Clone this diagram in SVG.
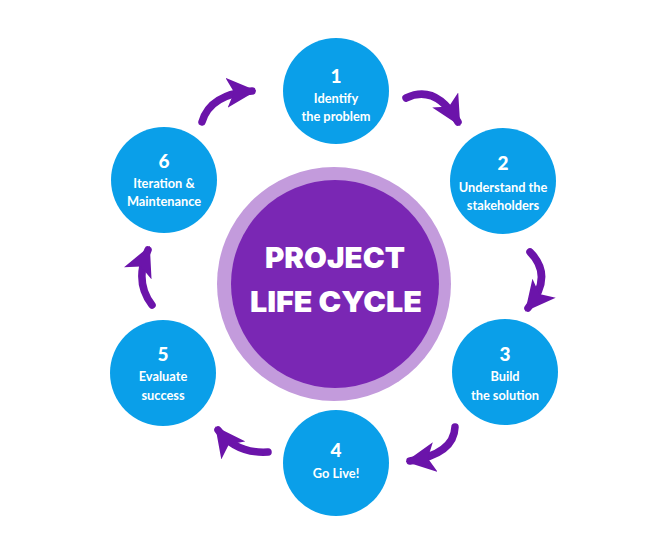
<svg xmlns="http://www.w3.org/2000/svg" width="672" height="560" viewBox="0 0 672 560">
<defs>
<style>
.node{fill:#0A9FE9}
.num{font-family:Lato,"Noto Sans",sans-serif;font-weight:900;font-size:19px;fill:#fff;text-anchor:middle}
.lbl{font-family:Lato,"Noto Sans",sans-serif;font-weight:700;font-size:12.8px;fill:#fff;text-anchor:middle}
.title{font-family:Inter,"Noto Sans",sans-serif;font-weight:900;font-size:29px;fill:#fff;text-anchor:middle}
.arr{fill:none;stroke:#6B14AA;stroke-width:7.5;stroke-linecap:round;marker-end:url(#head)}
</style>
<marker id="head" markerUnits="userSpaceOnUse" markerWidth="30" markerHeight="30" viewBox="0 0 20 20" refX="17" refY="10" orient="auto">
<path d="M0,0 L20,10 L0,20 L5,10 Z" fill="#6B14AA"/>
</marker>
</defs>
<rect width="672" height="560" fill="#fff"/>
<g id="center">
<circle cx="334" cy="284" r="117" fill="#C39BDC"/>
<circle cx="335" cy="284" r="104" fill="#7A27B4"/>
<text class="title" x="335" y="268" textLength="140" lengthAdjust="spacingAndGlyphs">PROJECT</text>
<text class="title" x="336" y="312" textLength="172" lengthAdjust="spacingAndGlyphs">LIFE CYCLE</text>
</g>
<g id="connectors">
<path class="arr" d="M406,98 Q436,84 458,122"/>
<path class="arr" d="M530,252 Q554,276 528,308"/>
<path class="arr" d="M455,427 Q454,454 410,461"/>
<path class="arr" d="M268,452 Q236,454 218,430"/>
<path class="arr" d="M152,305 Q134,282 148,250"/>
<path class="arr" d="M202,122 Q210,94 252,91"/>
</g>
<g id="n1"><circle class="node" cx="336" cy="91" r="53"/><text class="num" x="336" y="83">1</text><text class="lbl" x="336" y="103">Identify</text><text class="lbl" x="336" y="121">the problem</text></g>
<g id="n2"><circle class="node" cx="503" cy="181" r="53"/><text class="num" x="503" y="170">2</text><text class="lbl" x="503" y="192">Understand the</text><text class="lbl" x="503" y="210">stakeholders</text></g>
<g id="n3"><circle class="node" cx="505" cy="372" r="53"/><text class="num" x="505" y="361">3</text><text class="lbl" x="505" y="381">Build</text><text class="lbl" x="505" y="400">the solution</text></g>
<g id="n4"><circle class="node" cx="336" cy="463" r="53"/><text class="num" x="336" y="457">4</text><text class="lbl" x="336" y="478">Go Live!</text></g>
<g id="n5"><circle class="node" cx="163" cy="373" r="53"/><text class="num" x="163" y="361">5</text><text class="lbl" x="163" y="381">Evaluate</text><text class="lbl" x="163" y="400">success</text></g>
<g id="n6"><circle class="node" cx="164" cy="180" r="53"/><text class="num" x="164" y="168">6</text><text class="lbl" x="164" y="188">Iteration &amp;</text><text class="lbl" x="164" y="206">Maintenance</text></g>
</svg>
